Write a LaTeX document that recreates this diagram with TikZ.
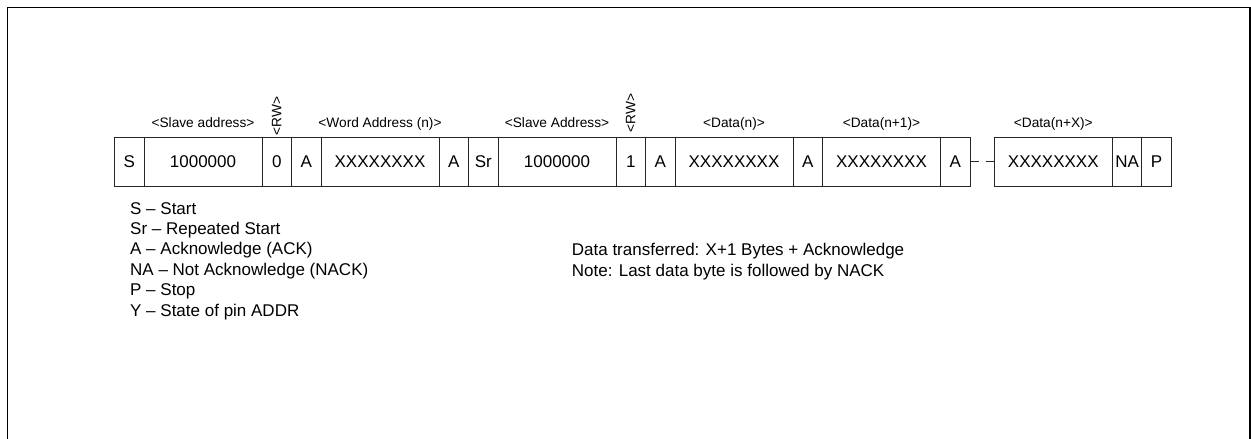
\documentclass[tikz,border=0pt]{standalone}
\usepackage{fontspec}
\setmainfont{Liberation Sans}
\begin{document}
\begin{tikzpicture}[x=1pt,y=-1pt,
  cell/.style={draw=black!85, line width=0.9pt, rectangle, anchor=west,
    minimum height=49pt, inner sep=0pt, outer sep=0pt,
    font=\fontsize{17}{20}\selectfont},
  small/.style={cell, minimum width=29.5pt},
  big/.style={cell, minimum width=118pt},
  lbl/.style={anchor=base, inner sep=0pt, font=\fontsize{13.7}{16}\selectfont},
  rwlbl/.style={anchor=center, rotate=90, inner sep=0pt, font=\fontsize{13.7}{16}\selectfont},
  leg/.style={anchor=base west, inner sep=0pt, font=\fontsize{17}{20}\selectfont},
  frame/.style={line width=1.6pt, line join=miter},
  gapline/.style={draw=black!85, line width=0.9pt, dash pattern=on 8.5pt off 7.5pt on 9pt off 0pt}]
\useasboundingbox (0,0) rectangle (1251,439);
% outer frame (open at the bottom)
\draw[frame] (7.5,446) -- (7.5,7.5) -- (1249.8,7.5) -- (1249.8,446);
% cells
\node[small] (s)   at (114.5,161.5) {S};
\node[big]   (sa1) at (144,161.5)   {1000000};
\node[small] (rw0) at (262,161.5)   {0};
\node[small] (a1)  at (291.5,161.5) {A};
\node[big]   (wa)  at (321,161.5)   {XXXXXXXX};
\node[small] (a2)  at (439,161.5)   {A};
\node[small] (sr)  at (468.5,161.5) {Sr};
\node[big]   (sa2) at (498,161.5)   {1000000};
\node[small] (rw1) at (616,161.5)   {1};
\node[small] (a3)  at (645.5,161.5) {A};
\node[big]   (d0)  at (675,161.5)   {XXXXXXXX};
\node[small] (a4)  at (793,161.5)   {A};
\node[big]   (d1)  at (822.5,161.5) {XXXXXXXX};
\node[small] (a5)  at (940.5,161.5) {A};
\node[big]   (dx)  at (994.3,161.5) {XXXXXXXX};
\node[small] (na)  at (1112.3,161.5) {NA};
\node[small] (p)   at (1141.8,161.5) {P};
\draw[gapline] (a5.east) -- (dx.west);
% labels above
\node[lbl] (lsa1) at ([yshift=10pt]sa1.north) {<Slave address>};
\node[rwlbl] (lrw0) at ([yshift=21pt]rw0.north) {<RW>};
\node[lbl] (lwa)  at ([yshift=10pt]wa.north)  {<Word Address (n)>};
\node[lbl] (lsa2) at ([yshift=10pt]sa2.north) {<Slave Address>};
\node[rwlbl] (lrw1) at ([yshift=24pt]rw1.north) {<RW>};
\node[lbl] (ld0)  at ([yshift=10pt]d0.north)  {<Data(n)>};
\node[lbl] (ld1)  at ([yshift=10pt]d1.north)  {<Data(n+1)>};
\node[lbl] (ldx)  at ([yshift=10pt]dx.north)  {<Data(n+X)>};
% legend
\node[leg] (g1) at (130,214)   {S – Start};
\node[leg] (g2) at (130,234.4) {Sr – Repeated Start};
\node[leg] (g3) at (130,254.8) {A – Acknowledge (ACK)};
\node[leg] (g4) at (130,275.2) {NA – Not Acknowledge (NACK)};
\node[leg] (g5) at (130,295.6) {P – Stop};
\node[leg] (g6) at (130,316)   {Y – State of pin ADDR};
\node[leg] (n1) at (571.7,255.5) {Data transferred: X+1 Bytes + Acknowledge};
\node[leg] (n2) at (571.7,276)   {Note: Last data byte is followed by NACK};
\end{tikzpicture}
\end{document}
